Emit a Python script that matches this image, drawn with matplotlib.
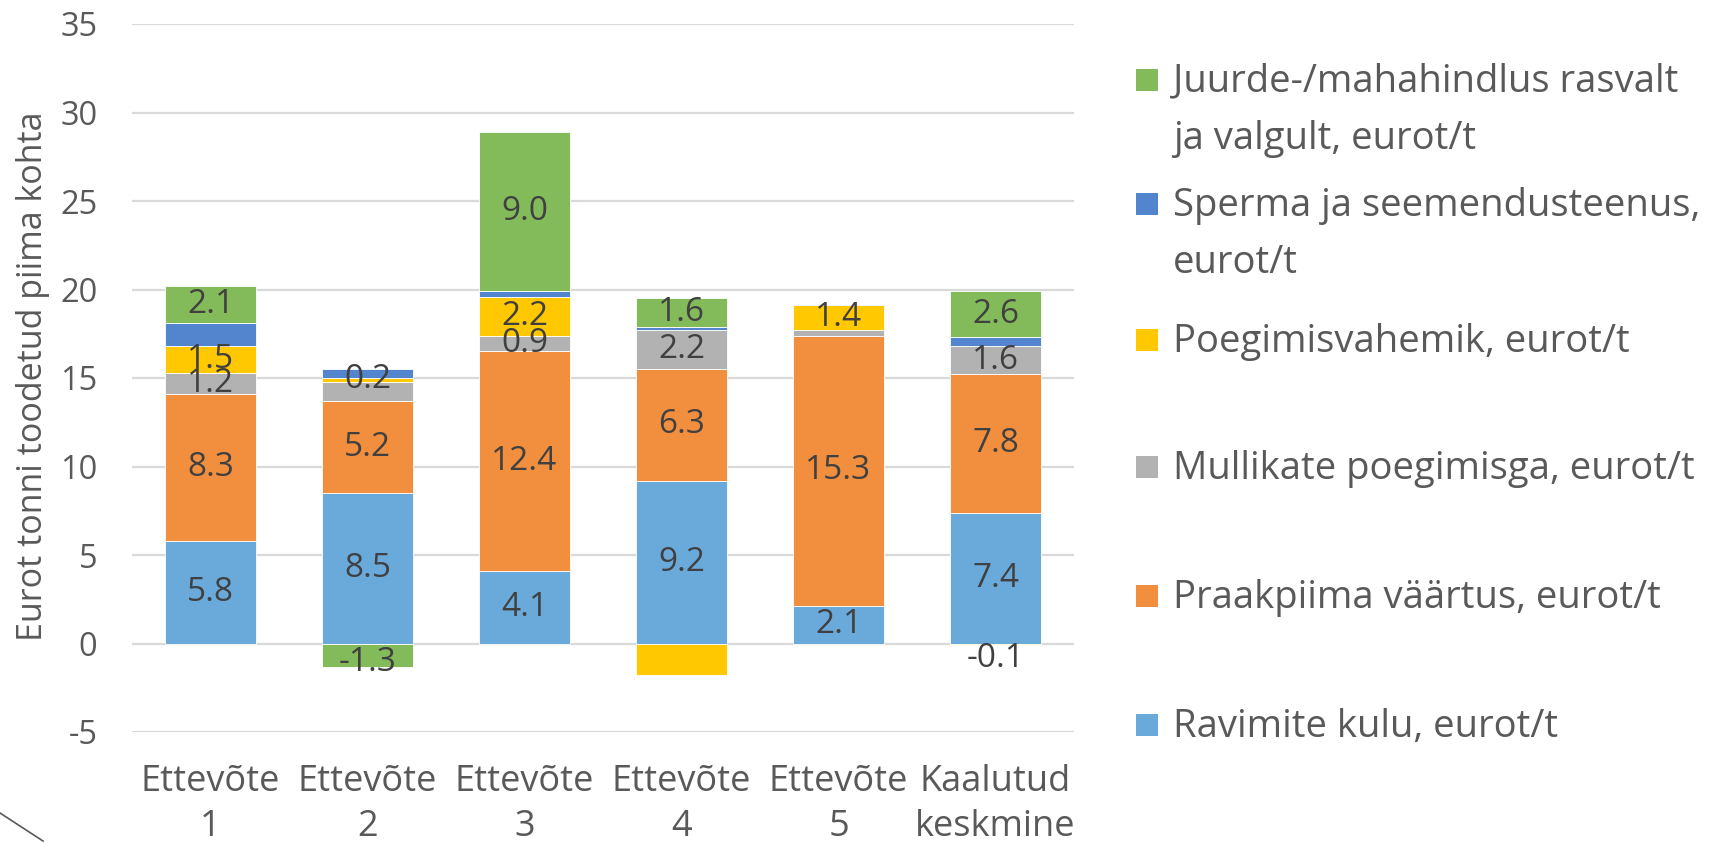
import matplotlib
matplotlib.use("Agg")
import matplotlib.pyplot as plt
from matplotlib.patches import Rectangle
from matplotlib.lines import Line2D
import numpy as np

plt.rcParams['font.family'] = ['Open Sans', 'DejaVu Sans']
plt.rcParams['axes.unicode_minus'] = False

categories = ["Ettevõte\n1", "Ettevõte\n2", "Ettevõte\n3", "Ettevõte\n4", "Ettevõte\n5", "Kaalutud\nkeskmine"]

ravimite = [5.8, 8.5, 4.1, 9.2, 2.1, 7.4]
praakpiima = [8.3, 5.2, 12.4, 6.3, 15.3, 7.8]
mullikate = [1.2, 1.1, 0.9, 2.2, 0.3, 1.6]
poegimisvahemik = [1.5, 0.2, 2.2, -1.8, 1.4, -0.1]
sperma = [1.3, 0.5, 0.3, 0.2, 0.1, 0.5]
juurde = [2.1, -1.3, 9.0, 1.6, 0.0, 2.6]

series_names = [
    "Ravimite kulu, eurot/t",
    "Praakpiima väärtus, eurot/t",
    "Mullikate poegimisga, eurot/t",
    "Poegimisvahemik, eurot/t",
    "Sperma ja seemendusteenus,\neurot/t",
    "Juurde-/mahahindlus rasvalt\nja valgult, eurot/t",
]
series_values = [ravimite, praakpiima, mullikate, poegimisvahemik, sperma, juurde]
series_colors = ["#6AAADB", "#F18F3F", "#B2B2B2", "#FFC800", "#5385CE", "#84BB5A"]
# which data labels are shown in the original
label_shown = [
    [True] * 6,
    [True] * 6,
    [True, False, True, True, False, True],
    [True, True, True, False, True, True],
    [False] * 6,
    [True, True, True, True, False, True],
]

W, H = 1710, 843
fig = plt.figure(figsize=(W / 100, H / 100), dpi=100)
ax = fig.add_axes([132 / W, 1 - 732 / H, (1074 - 132) / W, (732 - 24) / H])

x = np.arange(len(categories))
pos_base = np.zeros(len(categories))
neg_base = np.zeros(len(categories))
bw = 0.575
for vals, col, shown in zip(series_values, series_colors, label_shown):
    vals = np.array(vals, dtype=float)
    bottoms = np.where(vals >= 0, pos_base, neg_base)
    ax.bar(x, vals, bw, bottom=bottoms, color=col, edgecolor="white", linewidth=0.6, zorder=3)
    for i, v in enumerate(vals):
        if shown[i]:
            yc = bottoms[i] + v / 2
            if v < 0:
                yc = min(yc - 0.4, -0.85)
            ax.text(x[i], yc, f"{v:.1f}", ha="center", va="center", fontsize=24,
                    color="#404040", zorder=4)
    pos_base = pos_base + np.where(vals >= 0, vals, 0)
    neg_base = neg_base + np.where(vals < 0, vals, 0)

ax.set_xlim(-0.5, len(categories) - 0.5)
ax.set_ylim(-5, 35)
ax.set_yticks(np.arange(-5, 36, 5))
ax.set_xticks(x)
ax.set_xticklabels(categories, fontsize=26, color="#595959", linespacing=1.35)
ax.tick_params(axis="y", labelsize=23.5, labelcolor="#595959", length=0, pad=25)
ax.tick_params(axis="x", length=0, pad=23)
ax.grid(axis="y", color="#D9D9D9", linewidth=1.6, zorder=0)
ax.set_axisbelow(True)
for s in ax.spines.values():
    s.set_visible(False)

fig.text(33 / W, 1 - 376 / H, "Eurot tonni toodetud piima kohta", rotation=90,
         ha="center", va="center", fontsize=24.5, color="#595959")

# legend drawn manually (top entry = last series)
centers = [79.6, 204.0, 340.0, 467.0, 596.1, 725.3]
for k, (name, col) in enumerate(zip(series_names[::-1], series_colors[::-1])):
    cy = centers[k]
    fig.patches.append(Rectangle((1136 / W, 1 - (cy + 11) / H), 22 / W, 22 / H,
                                 transform=fig.transFigure, facecolor=col, edgecolor="none"))
    for j, line in enumerate(name.split("\n")):
        fig.text(1173 / W, 1 - (cy + 2 + j * 57) / H, line, ha="left", va="center",
                 fontsize=27.5, color="#595959")

# small cropped artifact in the lower-left corner
fig.lines.append(Line2D([0 / W, 43 / W], [1 - 813 / H, 1 - 841 / H], transform=fig.transFigure,
                        color="#595959", linewidth=1.2))

fig.savefig("out.png", dpi=100)
